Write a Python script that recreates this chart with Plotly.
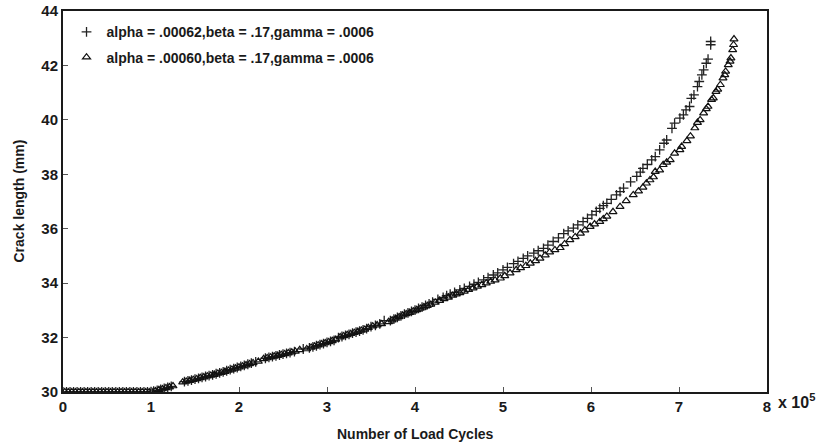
import plotly.graph_objects as go

# Load cycles (in units of 1e5) and crack length (mm), alpha = .00062
cycles_a062 = [
    0.00, 0.04, 0.08, 0.12, 0.16, 0.20, 0.24, 0.28, 0.32, 0.36, 0.40, 0.44, 0.48,
    0.52, 0.56, 0.60, 0.64, 0.68, 0.72, 0.76, 0.80, 0.84, 0.88, 0.92, 0.96, 1.00,
    1.03, 1.07, 1.11, 1.15, 1.19, 1.23,
    1.38, 1.42, 1.46, 1.50, 1.54, 1.58, 1.62, 1.66, 1.70, 1.74, 1.78, 1.82, 1.86,
    1.90, 1.94, 1.98, 2.02, 2.06, 2.10, 2.14, 2.19,
    2.30, 2.34, 2.38, 2.42, 2.46, 2.50, 2.54, 2.58, 2.63, 2.73,
    2.80, 2.84, 2.88, 2.92, 2.96, 3.00, 3.04, 3.08,
    3.13, 3.17, 3.21, 3.25, 3.29, 3.33, 3.37, 3.41, 3.45, 3.50, 3.55, 3.60, 3.65,
    3.72, 3.76, 3.80, 3.84, 3.88, 3.92, 3.96, 4.00, 4.04, 4.08, 4.12, 4.16, 4.20,
    4.26, 4.32, 4.36, 4.40, 4.45, 4.51, 4.56, 4.62, 4.67, 4.72, 4.78, 4.83, 4.89,
    4.94, 5.00, 5.05, 5.12, 5.17, 5.23, 5.28, 5.35, 5.40, 5.46, 5.51, 5.57, 5.63,
    5.69, 5.74, 5.80, 5.85, 5.91, 5.96, 6.01, 6.06, 6.10, 6.14, 6.18, 6.23, 6.29,
    6.33, 6.37, 6.45, 6.52, 6.56, 6.59, 6.64, 6.69, 6.73, 6.78, 6.83, 6.86, 6.92,
    6.95, 7.01, 7.05, 7.08, 7.12, 7.14, 7.17, 7.21, 7.23, 7.26, 7.28, 7.31, 7.33,
    7.36, 7.36,
]
crack_a062 = [
    30.00, 30.00, 30.00, 30.00, 30.00, 30.00, 30.00, 30.00, 30.00, 30.00, 30.00, 30.00, 30.00,
    30.00, 30.00, 30.00, 30.00, 30.00, 30.00, 30.00, 30.00, 30.00, 30.00, 30.00, 30.00, 30.01,
    30.03, 30.06, 30.10, 30.13, 30.17, 30.21,
    30.38, 30.41, 30.44, 30.47, 30.50, 30.54, 30.57, 30.60, 30.63, 30.67, 30.70, 30.74, 30.78,
    30.82, 30.86, 30.90, 30.94, 30.98, 31.02, 31.06, 31.11,
    31.24, 31.27, 31.30, 31.33, 31.36, 31.39, 31.42, 31.45, 31.48, 31.58,
    31.62, 31.66, 31.70, 31.74, 31.78, 31.82, 31.86, 31.90,
    32.00, 32.04, 32.08, 32.12, 32.16, 32.20, 32.24, 32.28, 32.33, 32.40, 32.45, 32.50, 32.62,
    32.62, 32.68, 32.74, 32.80, 32.86, 32.91, 32.96, 33.01, 33.07, 33.12, 33.18, 33.24, 33.30,
    33.40, 33.48, 33.54, 33.60, 33.66, 33.75, 33.81, 33.88, 33.96, 34.03, 34.12, 34.20, 34.30,
    34.38, 34.49, 34.58, 34.72, 34.80, 34.91, 35.00, 35.10, 35.19, 35.28, 35.40, 35.53, 35.66,
    35.82, 35.92, 36.02, 36.14, 36.26, 36.38, 36.51, 36.64, 36.75, 36.85, 36.93, 37.08, 37.24,
    37.36, 37.49, 37.72, 37.92, 38.08, 38.22, 38.36, 38.53, 38.65, 38.90, 39.14, 39.26, 39.69,
    39.88, 40.06, 40.18, 40.37, 40.49, 40.79, 40.92, 41.22, 41.41, 41.65, 41.84, 42.08, 42.23,
    42.76, 42.88,
]

# Load cycles (in units of 1e5) and crack length (mm), alpha = .00060
cycles_a060 = [
    0.02, 0.06, 0.10, 0.14, 0.18, 0.22, 0.26, 0.30, 0.34, 0.38, 0.42, 0.46, 0.50,
    0.54, 0.58, 0.62, 0.66, 0.70, 0.74, 0.78, 0.82, 0.86, 0.90, 0.94, 0.98,
    1.01, 1.05, 1.09, 1.13, 1.17, 1.21, 1.25,
    1.36, 1.40, 1.44, 1.48, 1.52, 1.56, 1.60, 1.64, 1.68, 1.72, 1.76, 1.80, 1.84,
    1.88, 1.92, 1.96, 2.00, 2.04, 2.08, 2.12, 2.16, 2.22,
    2.28, 2.32, 2.36, 2.40, 2.44, 2.48, 2.52, 2.56, 2.60, 2.64, 2.69, 2.77,
    2.82, 2.86, 2.90, 2.94, 2.98, 3.02, 3.06, 3.10,
    3.15, 3.19, 3.23, 3.27, 3.31, 3.35, 3.39, 3.43, 3.47, 3.52, 3.57, 3.62,
    3.70, 3.74, 3.78, 3.82, 3.86, 3.90, 3.94, 3.98, 4.02, 4.06, 4.10, 4.14, 4.18,
    4.23, 4.28, 4.33, 4.38, 4.43, 4.47,
    4.51, 4.56, 4.61, 4.66, 4.71, 4.76, 4.81, 4.86, 4.91, 4.97, 5.02, 5.08, 5.15,
    5.20, 5.26, 5.31, 5.37, 5.42, 5.48, 5.53, 5.59, 5.65, 5.70, 5.76, 5.82, 5.88,
    5.93, 5.99, 6.04, 6.10, 6.14, 6.18, 6.25, 6.33, 6.40, 6.48, 6.54, 6.59, 6.63,
    6.67, 6.71, 6.73, 6.78, 6.82, 6.86, 6.90, 6.95, 7.01, 7.03, 7.09, 7.13, 7.18,
    7.21, 7.24, 7.28, 7.31, 7.33, 7.37, 7.39, 7.42, 7.44, 7.47, 7.50, 7.52, 7.53,
    7.56, 7.58, 7.59, 7.61, 7.62, 7.625,
]
crack_a060 = [
    30.00, 30.00, 30.00, 30.00, 30.00, 30.00, 30.00, 30.00, 30.00, 30.00, 30.00, 30.00, 30.00,
    30.00, 30.00, 30.00, 30.00, 30.00, 30.00, 30.00, 30.00, 30.00, 30.00, 30.00, 30.00,
    30.01, 30.04, 30.08, 30.11, 30.15, 30.18, 30.22,
    30.36, 30.39, 30.42, 30.45, 30.48, 30.52, 30.55, 30.58, 30.61, 30.64, 30.68, 30.71, 30.75,
    30.79, 30.83, 30.87, 30.91, 30.95, 30.99, 31.03, 31.07, 31.12,
    31.22, 31.25, 31.28, 31.31, 31.34, 31.37, 31.40, 31.43, 31.46, 31.49, 31.55, 31.58,
    31.64, 31.68, 31.72, 31.76, 31.80, 31.84, 31.88, 31.93,
    32.02, 32.06, 32.10, 32.14, 32.18, 32.22, 32.26, 32.30, 32.36, 32.42, 32.46, 32.50,
    32.58, 32.64, 32.70, 32.76, 32.82, 32.87, 32.92, 32.97, 33.02, 33.07, 33.12, 33.17, 33.22,
    33.29, 33.36, 33.42, 33.48, 33.55, 33.60,
    33.64, 33.70, 33.76, 33.82, 33.88, 33.94, 34.00, 34.06, 34.11, 34.18, 34.27, 34.37, 34.49,
    34.56, 34.64, 34.73, 34.82, 34.91, 35.03, 35.14, 35.22, 35.30, 35.44, 35.59, 35.70, 35.83,
    35.95, 36.08, 36.17, 36.26, 36.36, 36.45, 36.62, 36.81, 37.02, 37.24, 37.38, 37.52, 37.67,
    37.79, 37.90, 38.10, 38.15, 38.35, 38.44, 38.53, 38.77, 38.90, 39.02, 39.23, 39.40, 39.70,
    39.90, 40.00, 40.25, 40.40, 40.49, 40.74, 40.80, 41.04, 41.12, 41.29, 41.53, 41.65, 41.78,
    42.02, 42.15, 42.27, 42.57, 42.76, 42.97,
]

x_ticks = [0, 1, 2, 3, 4, 5, 6, 7, 8]
y_ticks = [30, 32, 34, 36, 38, 40, 42, 44]

label_a062 = "alpha = .00062,beta = .17,gamma = .0006"
label_a060 = "alpha = .00060,beta = .17,gamma = .0006"
x_title = "Number of Load Cycles"
y_title = "Crack length (mm)"

FONT = "Liberation Sans, Arial, sans-serif"
INK = "#1a1a1a"

fig = go.Figure()
fig.add_trace(go.Scatter(
    x=cycles_a062, y=crack_a062, mode="markers", name=label_a062,
    legendgroup="a",
    marker=dict(symbol="cross-thin", size=7, color="#222222",
                line=dict(width=1.3, color="#222222")),
))
fig.add_trace(go.Scatter(
    x=cycles_a060, y=crack_a060, mode="markers", name=label_a060,
    legendgroup="b",
    marker=dict(symbol="triangle-up-open", size=7, color="#111111",
                line=dict(width=1.2)),
))

axis_common = dict(
    showline=True, linecolor=INK, linewidth=2, mirror=True,
    ticks="inside", ticklen=5, tickwidth=1, tickcolor="#555555",
    showgrid=False, zeroline=False, automargin=False,
    tickfont=dict(family=FONT, size=15, color=INK, weight="bold"),
)

fig.update_layout(
    width=829, height=445,
    margin=dict(l=63, r=62, t=11, b=53),
    paper_bgcolor="white", plot_bgcolor="white",
    font=dict(family=FONT, color=INK),
    xaxis=dict(range=[0, 8], tickvals=x_ticks, **axis_common),
    yaxis=dict(range=[30, 44], tickvals=y_ticks, **axis_common),
    showlegend=True,
    legend=dict(x=0.005, y=0.986, xanchor="left", yanchor="top",
                bgcolor="rgba(0,0,0,0)", tracegroupgap=4,
                font=dict(family=FONT, size=14, color=INK, weight="bold")),
)

title_font = dict(family=FONT, size=14, color=INK, weight="bold")
# Axis titles placed as annotations so the plot frame keeps its size
fig.add_annotation(
    text=x_title, xref="paper", yref="paper", x=0.5, y=0,
    xanchor="center", yanchor="middle", yshift=-42, showarrow=False,
    font=title_font,
)
fig.add_annotation(
    text=y_title, xref="paper", yref="paper", x=0, y=0.5, textangle=-90,
    xanchor="center", yanchor="middle", xshift=-45, showarrow=False,
    font=title_font,
)
fig.add_annotation(
    text="x 10<sup>5</sup>", xref="paper", yref="paper", x=1, y=0,
    xanchor="left", yanchor="middle", xshift=9, yshift=-9, showarrow=False,
    font=dict(family=FONT, size=16, color=INK, weight="bold"),
)

fig.write_html("out.html")
